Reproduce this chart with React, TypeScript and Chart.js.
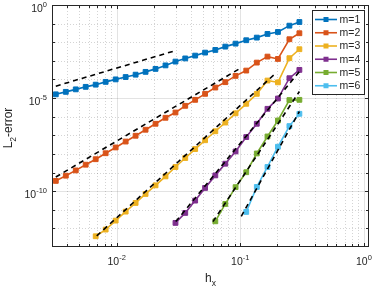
import React, { useEffect, useRef } from "react";
import { Chart, registerables } from "chart.js";

Chart.register(...registerables);

// step sizes h_x (shared grid)
const hx = [
  0.00322, 0.00388, 0.00467, 0.00562, 0.00677, 0.00815, 0.00982, 0.01183, 0.01424,
  0.01714, 0.02064, 0.02485, 0.02992, 0.03589, 0.04317, 0.05195, 0.06284, 0.07568,
  0.09166, 0.1118, 0.1361, 0.166, 0.2017, 0.2497, 0.3008,
];

// L2 errors per method order (first index into hx given by offsets)
const errM1 = [
  1.59e-5, 2.16e-5, 2.94e-5, 4.01e-5, 5.26e-5, 7.43e-5, 1.01e-4, 1.35e-4, 1.81e-4,
  2.56e-4, 3.7e-4, 5.7e-4, 9.12e-4, 1.35e-3, 1.91e-3, 2.77e-3, 3.86e-3, 5.81e-3,
  8.41e-3, 1.28e-2, 1.77e-2, 2.79e-2, 3.56e-2, 7.76e-2, 0.122,
];
const errM2 = [
  3.56e-10, 6.78e-10, 1.3e-9, 2.64e-9, 5.2e-9, 1.09e-8, 2.23e-8, 4.62e-8, 9.46e-8,
  1.99e-7, 4.16e-7, 8.73e-7, 1.68e-6, 3.84e-6, 8.05e-6, 1.69e-5, 3.68e-5, 7.16e-5,
  1.56e-4, 3.0e-4, 8.05e-4, 1.69e-3, 1.27e-3, 1.45e-2, 3.04e-2,
];
const errM3 = [
  3.77e-13, 8.63e-13, 2.62e-12, 7.96e-12, 2.33e-11, 7.08e-11, 2.05e-10, 6.22e-10,
  1.99e-9, 6.03e-9, 1.83e-8, 5.43e-8, 1.65e-7, 4.83e-7, 1.52e-6, 4.92e-6, 1.69e-5,
  8.73e-5, 7.0e-5, 1.39e-3, 4.21e-3,
];
const errM4 = [
  1.97e-12, 6.78e-12, 3.1e-11, 1.49e-10, 7.03e-10, 2.98e-9, 1.36e-8, 8.05e-8, 4.16e-7,
  2.65e-6, 9.46e-6, 1.17e-4, 3.27e-4,
];
const errM5 = [2.4e-12, 2.06e-11, 1.64e-10, 1.04e-9, 1.06e-8, 8.67e-8, 6.25e-7, 7.8e-6, 8.05e-6];
const errM6 = [7.67e-12, 1.68e-10, 1.99e-9, 2.43e-8, 3.13e-7, 1.43e-6];

const seriesErrors = [errM1, errM2, errM3, errM4, errM5, errM6];
const seriesOffsets = [0, 0, 4, 12, 16, 19];
const seriesLabels = ["m=1", "m=2", "m=3", "m=4", "m=5", "m=6"];
const seriesColors = ["#0072BD", "#D95319", "#EDB120", "#7E2F8E", "#77AC30", "#4DBEEE"];

// reference slope lines (dashed): start/end h and error
const refH = [
  [0.00322, 0.02992],
  [0.00322, 0.0987],
  [0.0069, 0.1951],
  [0.03007, 0.3008],
  [0.0601, 0.3008],
  [0.1019, 0.3008],
];
const refErr = [
  [4.37e-5, 3.55e-3],
  [5.77e-10, 3.8e-4],
  [3.96e-13, 2.26e-4],
  [2.32e-12, 2.65e-4],
  [2.3e-12, 2.25e-5],
  [4.46e-12, 1.9e-6],
];

const xMajorExp = [-2, -1, 0];
const yMajorExp = [-10, -5, 0];

const FONT = '"Liberation Sans", Arial, Helvetica, sans-serif';
const AXIS = "#262626";

function drawPow(ctx: CanvasRenderingContext2D, exp: number, x: number, baseY: number, align: "center" | "right") {
  const baseFont = `10.5px ${FONT}`;
  const supFont = `7.5px ${FONT}`;
  ctx.font = baseFont;
  const wb = ctx.measureText("10").width;
  ctx.font = supFont;
  const es = exp < 0 ? "-" + String(-exp) : String(exp);
  const we = ctx.measureText(es).width;
  const total = wb + we;
  const start = align === "center" ? x - total / 2 : x - total;
  ctx.textAlign = "left";
  ctx.textBaseline = "alphabetic";
  ctx.font = baseFont;
  ctx.fillText("10", start, baseY);
  ctx.font = supFont;
  ctx.fillText(es, start + wb, baseY - 5);
}

const matlabAxes = {
  id: "matlabAxes",
  beforeDatasetsDraw(chart: any) {
    const { ctx, chartArea: a, scales } = chart;
    const xs = scales.x;
    const ys = scales.y;
    ctx.save();
    ctx.lineWidth = 1;
    // minor grid (dotted)
    ctx.setLineDash([1, 2]);
    ctx.strokeStyle = "rgba(0,0,0,0.17)";
    for (let e = -3; e <= 0; e++) {
      for (let s = 2; s <= 9; s++) {
        const v = s * Math.pow(10, e);
        if (v <= xs.min * 1.0001 || v >= xs.max) continue;
        const px = Math.round(xs.getPixelForValue(v)) + 0.5;
        ctx.beginPath();
        ctx.moveTo(px, a.top);
        ctx.lineTo(px, a.bottom);
        ctx.stroke();
      }
    }
    for (let e = -12; e <= -1; e++) {
      if (yMajorExp.includes(e)) continue;
      const py = Math.round(ys.getPixelForValue(Math.pow(10, e))) + 0.5;
      ctx.beginPath();
      ctx.moveTo(a.left, py);
      ctx.lineTo(a.right, py);
      ctx.stroke();
    }
    // major grid
    ctx.setLineDash([]);
    ctx.strokeStyle = "rgba(38,38,38,0.13)";
    for (const e of xMajorExp) {
      const px = Math.round(xs.getPixelForValue(Math.pow(10, e))) + 0.5;
      ctx.beginPath();
      ctx.moveTo(px, a.top);
      ctx.lineTo(px, a.bottom);
      ctx.stroke();
    }
    for (const e of yMajorExp) {
      const py = Math.round(ys.getPixelForValue(Math.pow(10, e))) + 0.5;
      ctx.beginPath();
      ctx.moveTo(a.left, py);
      ctx.lineTo(a.right, py);
      ctx.stroke();
    }
    ctx.restore();
  },
  afterDatasetsDraw(chart: any) {
    const { ctx, chartArea: a, scales } = chart;
    const xs = scales.x;
    const ys = scales.y;
    ctx.save();
    // box
    ctx.strokeStyle = AXIS;
    ctx.lineWidth = 1;
    ctx.setLineDash([]);
    const L = Math.round(a.left) + 0.5;
    const R = Math.round(a.right) - 0.5;
    const T = Math.round(a.top) + 0.5;
    const B = Math.round(a.bottom) - 0.5;
    ctx.strokeRect(L, T, R - L, B - T);
    // ticks
    ctx.beginPath();
    for (let e = -3; e <= 0; e++) {
      for (let s = 1; s <= 9; s++) {
        const v = s * Math.pow(10, e);
        if (v <= xs.min * 1.0001 || v >= xs.max) continue;
        const px = Math.round(xs.getPixelForValue(v)) + 0.5;
        const len = s === 1 ? 3.5 : 2.5;
        ctx.moveTo(px, B);
        ctx.lineTo(px, B - len);
        ctx.moveTo(px, T);
        ctx.lineTo(px, T + len);
      }
    }
    for (let e = -12; e <= -1; e++) {
      const py = Math.round(ys.getPixelForValue(Math.pow(10, e))) + 0.5;
      const len = yMajorExp.includes(e) ? 3.5 : 2.5;
      ctx.moveTo(L, py);
      ctx.lineTo(L + len, py);
      ctx.moveTo(R, py);
      ctx.lineTo(R - len, py);
    }
    ctx.stroke();

    // tick labels
    ctx.fillStyle = AXIS;
    for (const e of xMajorExp) {
      const px = xs.getPixelForValue(Math.pow(10, e));
      drawPow(ctx, e, px, a.bottom + 18, "center");
    }
    for (const e of yMajorExp) {
      const py = ys.getPixelForValue(Math.pow(10, e));
      drawPow(ctx, e, a.left - 5, py + 7, "right");
    }

    // x title: h_x
    ctx.textAlign = "left";
    ctx.textBaseline = "alphabetic";
    ctx.font = `12px ${FONT}`;
    const wh = ctx.measureText("h").width;
    ctx.font = `8.5px ${FONT}`;
    const wx = ctx.measureText("x").width;
    const cx = (a.left + a.right) / 2;
    const sx = cx - (wh + wx) / 2;
    ctx.font = `12px ${FONT}`;
    ctx.fillText("h", sx, 282);
    ctx.font = `8.5px ${FONT}`;
    ctx.fillText("x", sx + wh, 285.5);

    // y title: L_2-error
    ctx.save();
    ctx.translate(12, (a.top + a.bottom) / 2 + 2);
    ctx.rotate(-Math.PI / 2);
    ctx.font = `12px ${FONT}`;
    const wL = ctx.measureText("L").width;
    const wErr = ctx.measureText("-error").width;
    ctx.font = `8.5px ${FONT}`;
    const w2 = ctx.measureText("2").width;
    let st = -(wL + w2 + wErr) / 2;
    ctx.font = `12px ${FONT}`;
    ctx.fillText("L", st, 0);
    ctx.font = `8.5px ${FONT}`;
    ctx.fillText("2", st + wL, 3.5);
    ctx.font = `12px ${FONT}`;
    ctx.fillText("-error", st + wL + w2, 0);
    ctx.restore();

    // legend
    const lx0 = 312.5, lx1 = 364.5, ly0 = 10.5, ly1 = 94.5;
    ctx.fillStyle = "#ffffff";
    ctx.fillRect(lx0, ly0, lx1 - lx0, ly1 - ly0);
    ctx.strokeStyle = AXIS;
    ctx.lineWidth = 1;
    ctx.strokeRect(lx0, ly0, lx1 - lx0, ly1 - ly0);
    seriesLabels.forEach((lab, i) => {
      const yy = 19.5 + i * 13.25;
      const col = seriesColors[i];
      ctx.strokeStyle = col;
      ctx.lineWidth = 1.6;
      ctx.beginPath();
      ctx.moveTo(315, yy);
      ctx.lineTo(337, yy);
      ctx.stroke();
      ctx.fillStyle = col;
      ctx.fillRect(326 - 2.5, yy - 2.5, 5, 5);
      ctx.fillStyle = AXIS;
      ctx.font = `10.5px ${FONT}`;
      ctx.textAlign = "left";
      ctx.textBaseline = "middle";
      ctx.fillText(lab, 339.5, yy + 0.5);
    });
    ctx.restore();
  },
};

export default function App() {
  const ref = useRef<HTMLCanvasElement | null>(null);
  useEffect(() => {
    if (!ref.current) return;
    const datasets: any[] = [];
    seriesErrors.forEach((errs, i) => {
      datasets.push({
        label: seriesLabels[i],
        data: errs.map((v, j) => ({ x: hx[j + seriesOffsets[i]], y: v })),
        borderColor: seriesColors[i],
        backgroundColor: seriesColors[i],
        borderWidth: 1.6,
        pointStyle: "rect",
        pointRadius: 3.4,
        pointBorderWidth: 1,
        pointBackgroundColor: seriesColors[i],
        pointBorderColor: seriesColors[i],
        tension: 0,
        order: 1,
      });
    });
    refH.forEach((hs, i) => {
      datasets.push({
        label: "ref" + (i + 1),
        data: hs.map((h, j) => ({ x: h, y: refErr[i][j] })),
        borderColor: "#000000",
        borderWidth: 1.6,
        borderDash: [5, 4],
        pointRadius: 0,
        tension: 0,
        order: 0,
      });
    });
    const chart = new Chart(ref.current, {
      type: "line",
      data: { datasets },
      options: {
        responsive: false,
        animation: false,
        devicePixelRatio: 1,
        layout: { padding: { left: 0, top: 5, right: 4, bottom: 0 } },
        plugins: { legend: { display: false }, tooltip: { enabled: false } },
        scales: {
          x: {
            type: "logarithmic",
            min: 0.003,
            max: 1.1,
            bounds: "data",
            ticks: { display: false },
            grid: { display: false },
            border: { display: false },
            afterFit: (s: any) => {
              s.height = 42;
            },
          },
          y: {
            type: "logarithmic",
            min: 1e-13,
            max: 1,
            bounds: "data",
            ticks: { display: false },
            grid: { display: false },
            border: { display: false },
            afterFit: (s: any) => {
              s.width = 52;
            },
          },
        },
      } as any,
      plugins: [matlabAxes],
    });
    return () => chart.destroy();
  }, []);
  return (
    <div style={{ position: "fixed", left: 0, top: 0, width: 374, height: 289, background: "#fff" }}>
      <canvas ref={ref} width={374} height={289} style={{ width: 374, height: 289, display: "block" }} />
    </div>
  );
}
